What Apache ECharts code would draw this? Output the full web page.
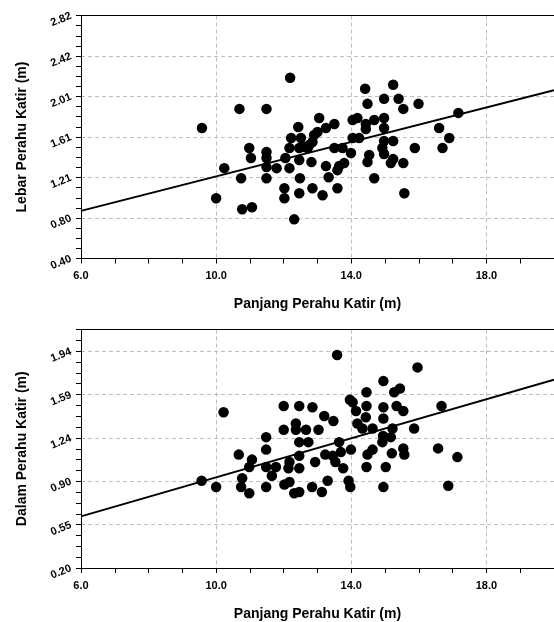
<!DOCTYPE html>
<html>
<head>
<meta charset="utf-8">
<script src="https://cdn.jsdelivr.net/npm/echarts@6.0.0/dist/echarts.min.js"></script>
<style>
html,body{margin:0;padding:0;background:#fff;}
#chart{width:554px;height:622px;}
</style>
</head>
<body>
<div id="chart"></div>
<script>
// ---- data: top panel (Lebar vs Panjang) ----
const topX = [12.19,10.69,11.49,9.58,12.43,13.05,13.25,10.98,11.03,11.49,11.49,10.24,11.49,11.79,10.74,11.49,10.00,10.77,11.06,12.02,12.02,12.31,12.46,12.85,13.15,12.48,12.17,12.05,12.17,12.22,12.46,12.82,13.25,13.33,12.51,12.61,12.76,12.90,13.00,12.46,12.71,12.85,
  14.41,15.24,14.48,14.97,15.40,15.54,15.99,17.17,13.50,14.04,14.18,14.43,14.68,14.97,14.97,14.43,14.04,14.23,16.60,16.90,14.97,15.24,14.92,14.97,15.88,16.70,13.50,13.74,13.99,14.53,14.48,13.64,13.79,13.59,15.24,15.17,15.54,14.68,13.59,15.57];
const topY = [2.20,1.89,1.89,1.70,1.71,1.80,1.70,1.50,1.40,1.46,1.40,1.30,1.31,1.30,1.20,1.20,1.00,0.89,0.91,1.10,1.00,0.79,1.05,1.10,1.03,1.20,1.30,1.40,1.50,1.60,1.38,1.36,1.32,1.21,1.60,1.51,1.53,1.63,1.66,1.50,1.50,1.56,
  2.09,2.13,1.94,1.99,1.99,1.89,1.94,1.85,1.74,1.78,1.80,1.74,1.78,1.80,1.70,1.69,1.60,1.60,1.70,1.60,1.57,1.57,1.50,1.44,1.50,1.50,1.50,1.50,1.45,1.43,1.36,1.32,1.35,1.28,1.39,1.35,1.35,1.20,1.10,1.05];
const topFitX = [6, 20];
const topFitY = [0.874, 2.075];

// ---- data: bottom panel (Dalam vs Panjang) ----
const botX = [10.22,12.00,12.46,12.85,13.20,12.00,12.36,12.36,12.66,13.03,11.48,11.48,12.46,12.73,10.67,11.06,10.98,11.48,11.77,11.65,12.17,12.14,12.46,12.46,12.93,13.23,9.57,10.00,10.77,10.74,10.98,11.48,12.02,12.17,12.31,12.46,12.84,13.13,13.30,
  13.58,15.96,14.95,14.45,15.27,15.44,13.96,14.04,14.45,14.95,15.34,15.54,16.67,14.14,14.43,14.95,13.47,14.18,14.33,14.63,15.22,15.86,14.94,15.17,14.92,13.64,13.99,13.45,13.69,14.63,14.48,15.20,15.54,15.57,16.57,17.14,13.53,13.76,14.45,15.02,13.92,13.97,14.95,16.87];
const botY = [1.45,1.50,1.50,1.49,1.42,1.31,1.36,1.31,1.31,1.31,1.25,1.15,1.21,1.21,1.11,1.07,1.01,1.01,1.01,0.94,1.05,1.00,1.00,1.10,1.05,1.11,0.90,0.85,0.92,0.85,0.80,0.85,0.87,0.89,0.80,0.81,0.85,0.81,0.90,
  1.91,1.81,1.70,1.61,1.61,1.64,1.55,1.53,1.50,1.49,1.50,1.46,1.50,1.46,1.41,1.40,1.38,1.36,1.32,1.32,1.32,1.32,1.26,1.25,1.21,1.21,1.15,1.10,1.13,1.15,1.11,1.12,1.16,1.11,1.16,1.09,1.05,1.00,1.01,1.01,0.90,0.85,0.85,0.86];
const botFitX = [6, 20];
const botFitY = [0.614, 1.712];

// ---- axes / tick labels ----
const xMin = 6, xMax = 20;
const xTickLabels = [6, 10, 14, 18];
const xGridValues = [10, 14, 18];
const xTitle = 'Panjang Perahu Katir (m)';

const topYMin = 0.40, topYMax = 2.82;
const topYLabels = ['0.40','0.80','1.21','1.61','2.01','2.42','2.82'];
const topYTitle = 'Lebar Perahu Katir (m)';

const botYMin = 0.20, botYStep = 0.348;
const botYLabels = ['0.20','0.55','0.90','1.24','1.59','1.94'];
const botYMax = botYMin + 5.5 * botYStep;
const botYTitle = 'Dalam Perahu Katir (m)';

const r6 = v => +v.toFixed(6);
const topStep = (topYMax - topYMin) / (topYLabels.length - 1);
const topYMajor = topYLabels.map((_, i) => r6(topYMin + i * topStep));
const topYMinor = Array.from({length: (topYLabels.length - 1) * 4 + 1}, (_, i) => r6(topYMin + i * topStep / 4));
const botYMajor = botYLabels.map((_, i) => r6(botYMin + i * botYStep));
const botYMinor = Array.from({length: 23}, (_, i) => r6(botYMin + i * botYStep / 4));
const xMinor = Array.from({length: xMax - xMin + 1}, (_, i) => xMin + i);

const FONT = '"Liberation Sans", Arial, sans-serif';
const pairs = (xs, ys) => xs.map((x, i) => [x, ys[i]]);
const labelFor = (majors, labels) => v => {
  for (let i = 0; i < majors.length; i++) if (Math.abs(majors[i] - v) < 1e-6) return labels[i];
  return '';
};

function xMain(gridIndex) {
  return {
    type: 'value', gridIndex, min: xMin, max: xMax, position: 'bottom',
    name: xTitle, nameLocation: 'middle', nameGap: 39,
    nameTextStyle: {fontFamily: FONT, fontWeight: 'bold', fontSize: 14, color: '#000'},
    axisLine: {show: true, onZero: false, lineStyle: {color: '#000', width: 1}},
    axisTick: {show: true, inside: false, length: 5, customValues: xMinor, lineStyle: {color: '#000'}},
    axisLabel: {show: true, customValues: xTickLabels, margin: 12, fontFamily: FONT, fontWeight: 'bold', fontSize: 11, color: '#000',
      formatter: v => v.toFixed(1)},
    splitLine: {show: false}
  };
}
function xGrid(gridIndex) {
  return {
    type: 'value', gridIndex, min: xMin, max: xMax, position: 'top',
    axisLine: {show: true, onZero: false, lineStyle: {color: '#000', width: 1}},
    axisTick: {show: false, customValues: xGridValues},
    axisLabel: {show: false},
    splitLine: {show: true, lineStyle: {color: '#bdbdbd', type: [4, 3], width: 1}}
  };
}
function yMain(gridIndex, min, max, minor, major, labels, title) {
  return {
    type: 'value', gridIndex, min, max, position: 'left',
    name: title, nameLocation: 'middle', nameGap: 52, nameRotate: 90,
    nameTextStyle: {fontFamily: FONT, fontWeight: 'bold', fontSize: 14, color: '#000'},
    axisLine: {show: true, onZero: false, lineStyle: {color: '#000', width: 1}},
    axisTick: {show: true, inside: false, length: 5, customValues: minor, lineStyle: {color: '#000'}},
    axisLabel: {show: true, customValues: major, rotate: 22, margin: 10, fontFamily: FONT, fontWeight: 'bold', fontSize: 11, color: '#000',
      formatter: labelFor(major, labels)},
    splitLine: {show: false}
  };
}
function yGrid(gridIndex, min, max, inner) {
  return {
    type: 'value', gridIndex, min, max, position: 'right',
    axisLine: {show: false},
    axisTick: {show: false, customValues: inner},
    axisLabel: {show: false},
    splitLine: {show: true, lineStyle: {color: '#bdbdbd', type: [4, 3], width: 1}}
  };
}

const chart = echarts.init(document.getElementById('chart'), null, {renderer: 'canvas'});
chart.setOption({
  animation: false,
  backgroundColor: '#fff',
  grid: [
    {left: 81, top: 15.5, width: 474, height: 243, containLabel: false},
    {left: 81, top: 329.5, width: 474, height: 241, containLabel: false}
  ],
  xAxis: [xMain(0), xGrid(0), xMain(1), xGrid(1)],
  yAxis: [
    yMain(0, topYMin, topYMax, topYMinor, topYMajor, topYLabels, topYTitle),
    yGrid(0, topYMin, topYMax, topYMajor.slice(1, -1)),
    yMain(1, botYMin, r6(botYMax), botYMinor, botYMajor, botYLabels, botYTitle),
    yGrid(1, botYMin, r6(botYMax), botYMajor.slice(1))
  ],
  series: [
    {type: 'line', xAxisIndex: 0, yAxisIndex: 0, data: pairs(topFitX, topFitY), symbol: 'none',
      lineStyle: {color: '#000', width: 2}, z: 3},
    {type: 'scatter', xAxisIndex: 0, yAxisIndex: 0, data: pairs(topX, topY), symbol: 'circle', symbolSize: 10.5,
      itemStyle: {color: '#000', opacity: 1}, z: 4},
    {type: 'line', xAxisIndex: 2, yAxisIndex: 2, data: pairs(botFitX, botFitY), symbol: 'none',
      lineStyle: {color: '#000', width: 2}, z: 3},
    {type: 'scatter', xAxisIndex: 2, yAxisIndex: 2, data: pairs(botX, botY), symbol: 'circle', symbolSize: 10.5,
      itemStyle: {color: '#000', opacity: 1}, z: 4}
  ]
});
</script>
</body>
</html>
